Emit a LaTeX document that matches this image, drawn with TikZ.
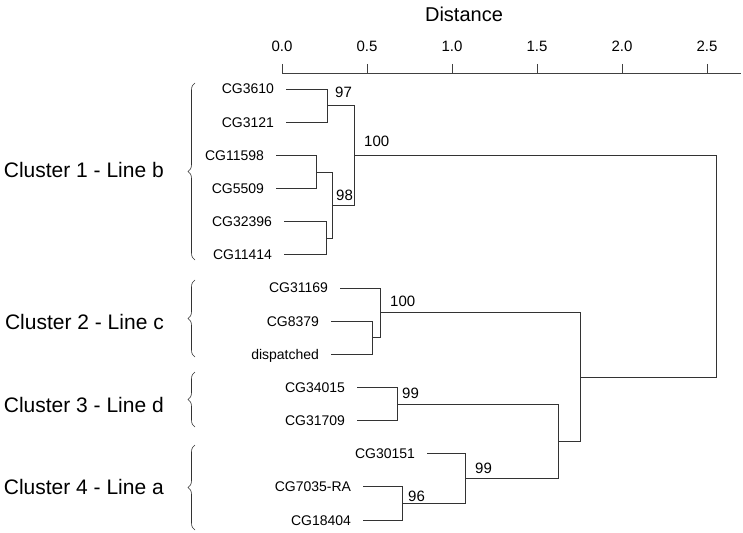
\documentclass[tikz,border=0pt]{standalone}
\usepackage{fontspec}
\setmainfont{Liberation Sans}
\usetikzlibrary{positioning,decorations.pathreplacing}

\begin{document}
\begin{tikzpicture}[
    x=1pt, y=-1pt,
    leaf/.style={anchor=east, inner sep=0pt, outer xsep=12pt, text height=10pt, text depth=0pt, font=\fontsize{14}{16}\selectfont},
    cluster/.style={anchor=east, inner sep=0pt, text height=14pt, text depth=0pt, font=\fontsize{21}{24}\selectfont},
    boot/.style={anchor=south west, inner sep=0pt, font=\fontsize{15}{18}\selectfont},
    ticklab/.style={inner sep=0pt, font=\fontsize{15}{18}\selectfont},
    branch/.style={draw=black!80, line width=0.7pt},
    brace/.style={draw=black!80, line width=0.6pt, decorate, decoration={brace, amplitude=7pt}},
    axis/.style={draw=black!75, line width=0.7pt},
]
    \useasboundingbox (0,0) rectangle (743,532);

    % === Distance axis ===
    \node[font=\fontsize{20}{22}\selectfont] (dist) at (464,14) {Distance};
    \draw[axis] (282,73) -- (741,73);
    \foreach \d in {0.0,0.5,1.0,1.5,2.0,2.5} {
        \draw[axis] ({282+170*\d},64) -- ({282+170*\d},73);
        \node[ticklab] at ({282+170*\d},46) {\d};
    }

    % === Leaves ===
    \node[leaf] (cg3610)  at (286,89)    {CG3610};
    \node[leaf] (cg3121)  at (286,122.2) {CG3121};
    \node[leaf] (cg11598) at (276,155.3) {CG11598};
    \node[leaf] (cg5509)  at (276,188.5) {CG5509};
    \node[leaf] (cg32396) at (284,221.6) {CG32396};
    \node[leaf] (cg11414) at (284,254.8) {CG11414};
    \node[leaf] (cg31169) at (340,287.9) {CG31169};
    \node[leaf] (cg8379)  at (331,321.1) {CG8379};
    \node[leaf] (disp)    at (331,354.2) {dispatched};
    \node[leaf] (cg34015) at (357,387.4) {CG34015};
    \node[leaf] (cg31709) at (357,420.5) {CG31709};
    \node[leaf] (cg30151) at (427,453.7) {CG30151};
    \node[leaf] (cg7035)  at (363,486.8) {CG7035-RA};
    \node[leaf] (cg18404) at (363,520)   {CG18404};

    % === Joins (x = 282 + 170 * distance) ===
    \coordinate (n97)  at (327,105.6);
    \coordinate (na)   at (316,171.9);
    \coordinate (nb)   at (326,238.2);
    \coordinate (n98)  at (332,205.05);
    \coordinate (nA)   at (354,155.3);
    \coordinate (nd)   at (372,337.65);
    \coordinate (nB)   at (380,312.8);
    \coordinate (nC)   at (397,403.95);
    \coordinate (n96)  at (402,503.4);
    \coordinate (nD)   at (465,478.55);
    \coordinate (ne)   at (558,441.25);
    \coordinate (nf)   at (580,377);
    \coordinate (root) at (716,266.15);

    % cluster 1
    \draw[branch] (cg3610.east) -| (n97);
    \draw[branch] (cg3121.east) -| (n97);
    \draw[branch] (cg11598.east) -| (na);
    \draw[branch] (cg5509.east) -| (na);
    \draw[branch] (cg32396.east) -| (nb);
    \draw[branch] (cg11414.east) -| (nb);
    \draw[branch] (na) -| (n98);
    \draw[branch] (nb) -| (n98);
    \draw[branch] (n97) -| (nA);
    \draw[branch] (n98) -| (nA);
    % cluster 2
    \draw[branch] (cg8379.east) -| (nd);
    \draw[branch] (disp.east) -| (nd);
    \draw[branch] (cg31169.east) -| (nB);
    \draw[branch] (nd) -| (nB);
    % clusters 3 and 4
    \draw[branch] (cg34015.east) -| (nC);
    \draw[branch] (cg31709.east) -| (nC);
    \draw[branch] (cg7035.east) -| (n96);
    \draw[branch] (cg18404.east) -| (n96);
    \draw[branch] (cg30151.east) -| (nD);
    \draw[branch] (n96) -| (nD);
    \draw[branch] (nC) -| (ne);
    \draw[branch] (nD) -| (ne);
    % top joins
    \draw[branch] (nB) -| (nf);
    \draw[branch] (ne) -| (nf);
    \draw[branch] (nA) -| (root);
    \draw[branch] (nf) -| (root);

    % === Bootstrap values ===
    \node[boot, above right=8pt and 8pt of n97] {97};
    \node[boot, above right=4pt and 4pt of n98] {98};
    \node[boot, above right=8pt and 10pt of nA] {100};
    \node[boot, above right=6pt and 10pt of nB] {100};
    \node[boot, above right=5pt and 5pt of nC] {99};
    \node[boot, above right=5pt and 10pt of nD] {99};
    \node[boot, above right=2pt and 6pt of n96] {96};

    % === Cluster labels and braces ===
    \node[cluster] (cl1) at (164,170) {Cluster 1 - Line b};
    \node[cluster] (cl2) at (164,322) {Cluster 2 - Line c};
    \node[cluster] (cl3) at (164,405) {Cluster 3 - Line d};
    \node[cluster] (cl4) at (164,487) {Cluster 4 - Line a};
    \draw[brace] (195,260) -- (195,83);
    \draw[brace] (195,357) -- (195,280);
    \draw[brace] (195,427) -- (195,372);
    \draw[brace] (195,530) -- (195,445);
\end{tikzpicture}
\end{document}
